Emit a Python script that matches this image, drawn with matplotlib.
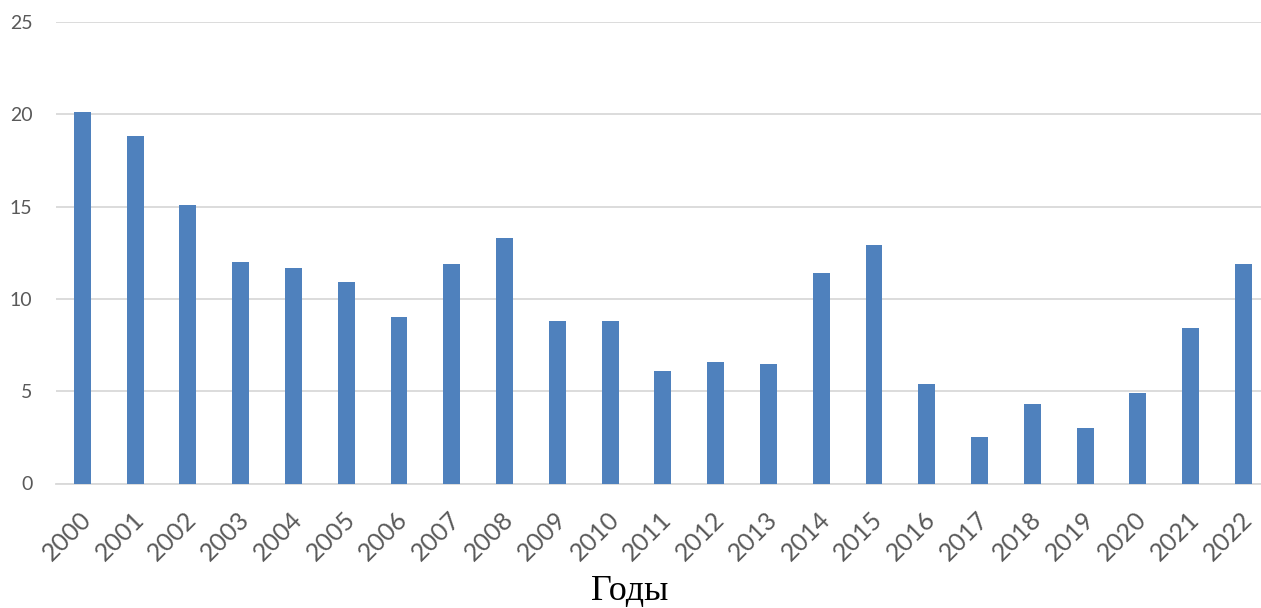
import matplotlib
matplotlib.use("Agg")
import matplotlib.pyplot as plt
import matplotlib.transforms as mtransforms
import numpy as np

years = [str(y) for y in range(2000, 2023)]
values = [20.1, 18.8, 15.1, 12.0, 11.7, 10.9, 9.0, 11.9, 13.3, 8.8, 8.8, 6.1,
          6.6, 6.5, 11.4, 12.9, 5.4, 2.5, 4.3, 3.0, 4.9, 8.4, 11.9]
yticks = [0, 5, 10, 15, 20, 25]

W, H = 1261, 608
fig = plt.figure(figsize=(W / 100, H / 100), dpi=100)

# axes in pixel coords: x from -0.5..22.5 spans 56..1270, y 0..25 spans 483..22
left, right, top, bottom = 56.0, 1269.8, 22.0, 483.5
ax = fig.add_axes([left / W, (H - bottom) / H, (right - left) / W, (bottom - top) / H])

x = np.arange(len(years))
ax.bar(x, values, width=0.32, color="#4F81BD", zorder=3)

ax.set_xlim(-0.5, len(years) - 0.5)
ax.set_ylim(0, 25)
ax.set_yticks(yticks)
ax.yaxis.grid(True, color="#D9D9D9", linewidth=1.3, zorder=0)
ax.set_axisbelow(True)
for s in ["top", "right", "left"]:
    ax.spines[s].set_visible(False)
ax.spines["bottom"].set_color("#D9D9D9")
ax.spines["bottom"].set_linewidth(1.3)

ax.tick_params(axis="both", length=0, colors="#595959")
ax.tick_params(axis="y", pad=17, labelsize=14)
ax.set_xticks(x)
ax.set_xticklabels(years, rotation=45, ha="right", va="center",
                   rotation_mode="anchor", fontfamily="Lato", fontsize=18)
for lbl in ax.get_yticklabels():
    lbl.set_fontfamily("Lato")
ax.tick_params(axis="x", pad=23)

# shift the rotated year labels a little to the right, like Excel does
shift = mtransforms.ScaledTranslation(5 / 100, 0, fig.dpi_scale_trans)
for lbl in ax.get_xticklabels():
    lbl.set_transform(lbl.get_transform() + shift)

fig.text(630 / W, (H - 600) / H, "Годы", ha="center", va="baseline",
         fontsize=26, fontfamily="Liberation Serif", color="black")

fig.savefig("out.png", dpi=100)
